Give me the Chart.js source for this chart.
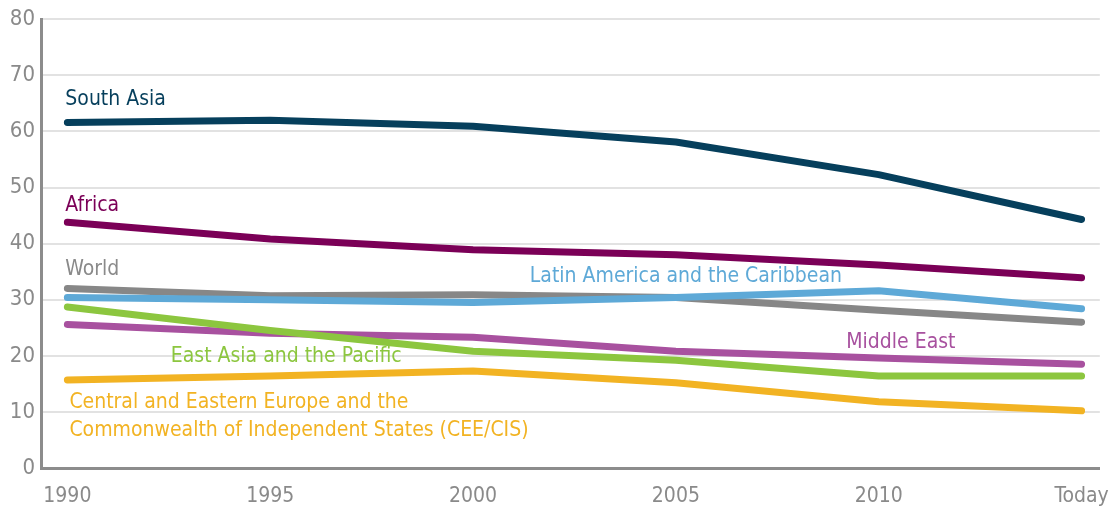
<!DOCTYPE html>
<html>
<head>
<meta charset="utf-8">
<script src="https://cdn.jsdelivr.net/npm/chart.js@4"></script>
<style>
  html, body { margin: 0; padding: 0; background: #fff; }
  #wrap { width: 1117px; height: 508px; }
</style>
</head>
<body>
<div id="wrap"><canvas id="chart"></canvas></div>
<script>
// Datos
const years = ["1990", "1995", "2000", "2005", "2010", "Today"];
const yTicks = [0, 10, 20, 30, 40, 50, 60, 70, 80];

const southAsia = [61.6, 62.0, 60.9, 58.1, 52.3, 44.3];
const africa = [43.8, 40.8, 38.9, 38.0, 36.2, 33.9];
const world = [32.0, 30.7, 30.9, 30.4, 28.1, 26.0];
const latinAmerica = [30.4, 30.0, 29.5, 30.4, 31.6, 28.4];
const middleEast = [25.6, 24.0, 23.3, 20.8, 19.6, 18.5];
const eastAsia = [28.7, 24.5, 20.8, 19.2, 16.4, 16.4];
const ceeCis = [15.7, 16.4, 17.3, 15.2, 11.8, 10.2];

const FONT = "'Liberation Sans Narrow', 'DejaVu Sans Condensed', 'Roboto', sans-serif";

function series(label, values, color) {
  return {
    label: label,
    data: values.map((v, i) => ({ x: i, y: v })),
    borderColor: color,
    borderWidth: 7,
    pointRadius: 0,
    tension: 0,
    borderCapStyle: "round",
    borderJoinStyle: "round",
    fill: false
  };
}

// Etiquetas de texto junto a las líneas (posición en coordenadas de datos)
const lineLabels = [
  { text: "South Asia", x: -0.01, y: 65.7, color: "#063f5c" },
  { text: "Africa", x: -0.01, y: 46.8, color: "#7b0057" },
  { text: "World", x: -0.01, y: 35.3, color: "#8a8a8a" },
  { text: "Latin America and the Caribbean", x: 2.28, y: 34.1, color: "#5ea9d7" },
  { text: "Middle East", x: 3.84, y: 22.3, color: "#a8519f" },
  { text: "East Asia and the Pacific", x: 0.51, y: 19.8, color: "#8cc63f" },
  { text: "Central and Eastern Europe and the", x: 0.01, y: 11.6, color: "#f2b323" },
  { text: "Commonwealth of Independent States (CEE/CIS)", x: 0.01, y: 6.7, color: "#f2b323" }
];

const labelPlugin = {
  id: "lineLabels",
  afterDatasetsDraw(chart) {
    const ctx = chart.ctx;
    const xs = chart.scales.x;
    const ys = chart.scales.y;
    ctx.save();
    ctx.font = "21px " + FONT;
    ctx.textAlign = "left";
    ctx.textBaseline = "middle";
    lineLabels.forEach((l) => {
      ctx.fillStyle = l.color;
      ctx.fillText(l.text, xs.getPixelForValue(l.x), ys.getPixelForValue(l.y));
    });
    ctx.restore();
  }
};

new Chart(document.getElementById("chart"), {
  type: "line",
  data: {
    datasets: [
      series("CEE/CIS", ceeCis, "#f2b323"),
      series("East Asia and the Pacific", eastAsia, "#8cc63f"),
      series("Middle East", middleEast, "#a8519f"),
      series("Latin America and the Caribbean", latinAmerica, "#5ea9d7"),
      series("World", world, "#878787"),
      series("Africa", africa, "#7b0057"),
      series("South Asia", southAsia, "#063f5c")
    ]
  },
  options: {
    responsive: true,
    maintainAspectRatio: false,
    animation: false,
    layout: { padding: { top: 15, right: 17, left: 0, bottom: 0 } },
    plugins: {
      legend: { display: false },
      tooltip: { enabled: false }
    },
    scales: {
      x: {
        type: "linear",
        min: -0.13,
        max: 5.09,
        afterBuildTicks: (axis) => {
          axis.ticks = years.map((y, i) => ({ value: i }));
        },
        afterFit: (s) => { s.height = 40; },
        ticks: {
          callback: (v) => years[v],
          color: "#8a8a8a",
          font: { family: FONT, size: 21 },
          padding: 8,
          maxRotation: 0
        },
        grid: { display: false },
        border: { display: true, color: "#8c8c8c", width: 3 }
      },
      y: {
        min: 0,
        max: 80,
        afterBuildTicks: (axis) => {
          axis.ticks = yTicks.map((v) => ({ value: v }));
        },
        afterFit: (s) => { s.width = 41; },
        ticks: {
          color: "#8a8a8a",
          font: { family: FONT, size: 22 },
          padding: 6
        },
        grid: { color: "#e2e2e2", lineWidth: 2, drawTicks: false },
        border: { display: true, color: "#8c8c8c", width: 3 }
      }
    }
  },
  plugins: [labelPlugin]
});
</script>
</body>
</html>
